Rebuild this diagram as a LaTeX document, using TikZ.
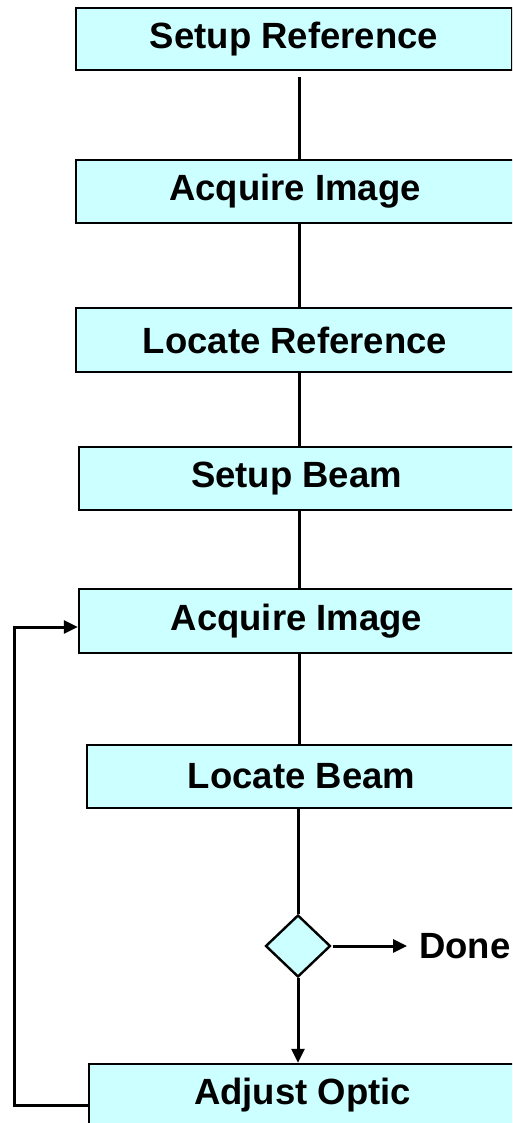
\documentclass[tikz,border=0pt]{standalone}
\usepackage{fontspec}
\setmainfont{Liberation Sans}
\usetikzlibrary{shapes.geometric,arrows.meta}
\definecolor{boxfill}{HTML}{CCFFFF}
\tikzset{
  stepbox/.style={draw=black, line width=2.4pt, fill=boxfill, rectangle, inner sep=0pt,
    font=\fontsize{36.5}{40}\selectfont\bfseries},
  conn/.style={line width=3pt, line cap=butt},
  tip/.style={-{Triangle[length=14pt,width=13pt]}},
  decision/.style={draw=black, line width=2.4pt, fill=boxfill, diamond, inner sep=0pt,
    minimum width=65pt, minimum height=62pt}
}
\begin{document}
\begin{tikzpicture}[x=1pt,y=-1pt]
\useasboundingbox (0,0) rectangle (512,1123);
\clip (0,0) rectangle (512,1123);
\fill[white] (0,0) rectangle (512,1123);
\coordinate (spine) at (299,0);
\node[stepbox, minimum width=436pt, minimum height=62pt] (b1) at (294,39) {Setup Reference};
\node[stepbox, minimum width=438pt, minimum height=63pt] (b2) at (295,191.5) {Acquire Image};
\node[stepbox, minimum width=438pt, minimum height=64pt] (b3) at (295,340) {Locate Reference};
\node[stepbox, minimum width=435pt, minimum height=63pt] (b4) at (296.5,478.5) {Setup Beam};
\node[stepbox, minimum width=435pt, minimum height=64pt] (b5) at (296.5,621) {Acquire Image};
\node[stepbox, minimum width=429pt, minimum height=63pt] (b6) at (301.5,776.5) {Locate Beam};
\node[stepbox, minimum width=427pt, minimum height=63pt] (b7) at (302.5,1095.5) {Adjust Optic};
\node[decision] (dia) at (298,946) {};
\node[anchor=west, inner sep=0pt, font=\fontsize{36.5}{40}\selectfont\bfseries] (done) at (419,946) {Done};
\coordinate (loopx) at (14,0);

\draw[conn, shorten <=6pt] (b1.south -| spine) -- (b2.north -| spine);
\draw[conn] (b2.south -| spine) -- (b3.north -| spine);
\draw[conn] (b3.south -| spine) -- (b4.north -| spine);
\draw[conn] (b4.south -| spine) -- (b5.north -| spine);
\draw[conn] (b5.south -| spine) -- (b6.north -| spine);
\draw[conn] (b6.south -| dia.north) -- (dia.north);
\draw[conn, tip] (dia.south) -- (b7.north -| dia.south);
\draw[conn, tip, shorten <=1pt] (dia.east) -- ([xshift=-12pt]done.west);
\draw[conn, tip] ([yshift=-9.5pt]b7.west) -| ([yshift=-6pt]b5.west -| loopx) -- ([yshift=-6pt]b5.west);
\end{tikzpicture}
\end{document}
